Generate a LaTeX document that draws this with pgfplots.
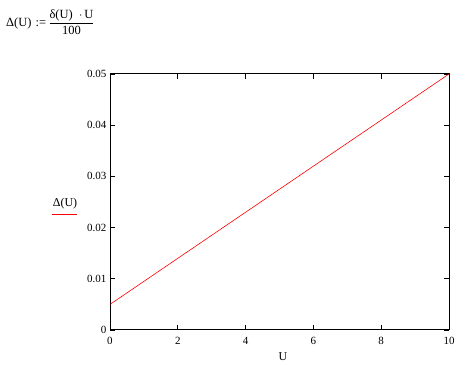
\documentclass[border=0pt]{standalone}
\usepackage{pgfplots}
\pgfplotsset{compat=1.18}
\usepackage{fontspec}
\setmainfont{Liberation Serif}
\definecolor{mcred}{RGB}{255,0,0}
\begin{document}
\begin{tikzpicture}[x=1pt,y=1pt]
\path (0,0) rectangle (472,367);
\node[anchor=west,inner sep=0pt,font=\fontsize{12.5}{14}\selectfont] at (6,345) {Δ(U)\,\,:=\,$\displaystyle\frac{\mbox{δ(U)\ \ $\cdot$\,U}}{\mbox{100}}$};
\begin{axis}[
  at={(110pt,37pt)}, anchor=south west,
  scale only axis, width=339pt, height=256pt,
  xmin=0, xmax=10, ymin=0, ymax=0.05,
  xtick={0,2,4,6,8,10},
  ytick={0,0.01,0.02,0.03,0.04,0.05},
  yticklabels={0,0.01,0.02,0.03,0.04,0.05},
  xticklabels={0,2,4,6,8,10},
  scaled y ticks=false,
  tick align=inside, tick pos=both,
  major tick length=5pt,
  axis line style={line width=1pt},
  every tick/.style={black,line width=0.9pt},
  tick label style={font=\fontsize{11}{12}\selectfont},
  xticklabel style={yshift=-4pt},
  /pgf/number format/assume math mode=true,
  clip=false,
]
\addplot[mcred, line width=0.6pt] coordinates {(0,0.005) (10,0.05)};
\end{axis}
\node[font=\fontsize{12}{13}\selectfont] at (65,163) {Δ(U)};
\fill[mcred] (52,151.6) rectangle (77,152.5);
\node[font=\fontsize{12}{13}\selectfont] at (283,10) {U};
\end{tikzpicture}
\end{document}
